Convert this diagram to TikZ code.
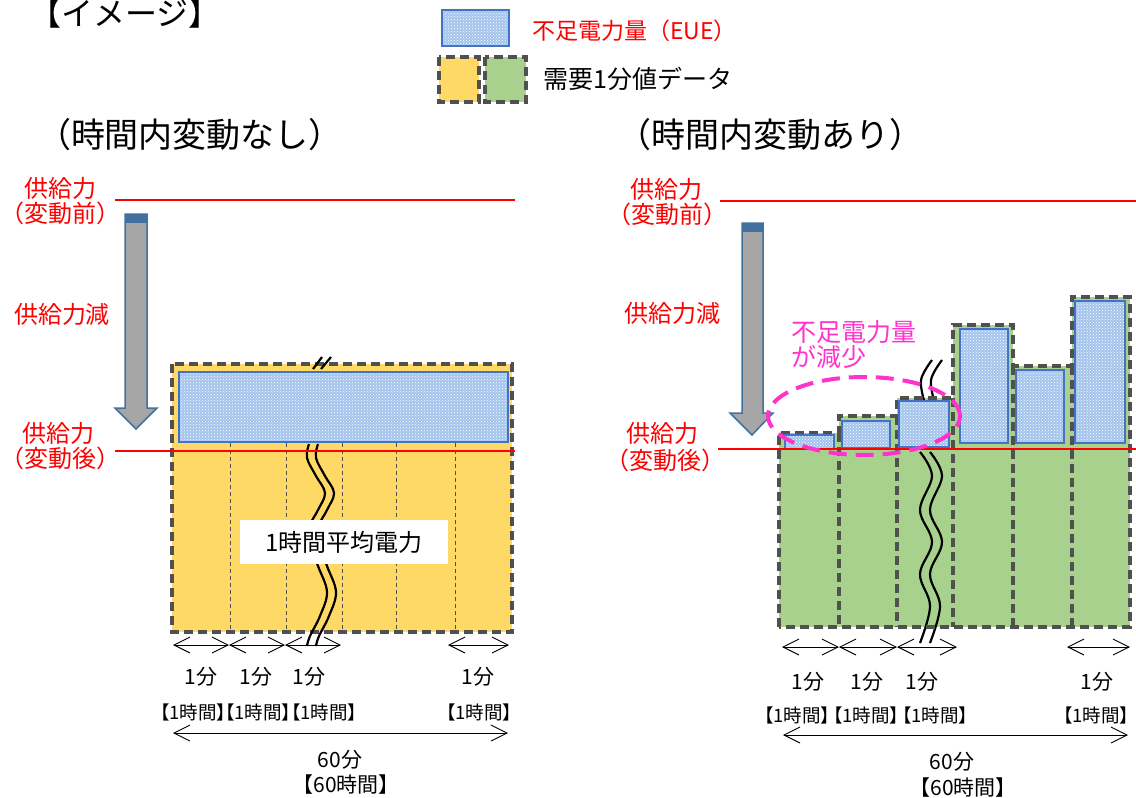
\documentclass[tikz,border=0pt]{standalone}
\usepackage{fontspec}
\setmainfont{Noto Sans CJK JP}
\newfontfamily\jpp[RawFeature=+palt]{Noto Sans CJK JP}
\usetikzlibrary{arrows.meta,patterns}
\definecolor{yel}{HTML}{FFD966}
\definecolor{grn}{HTML}{A9D18E}
\definecolor{dgray}{HTML}{505050}
\definecolor{bborder}{HTML}{4472C4}
\definecolor{bfill}{HTML}{A3C4EC}
\definecolor{bhatch}{HTML}{FFFFFF}
\definecolor{mag}{HTML}{FF33CC}
\definecolor{arrgray}{HTML}{A6A6A6}
\definecolor{arrblue}{HTML}{41719C}
\begin{document}
\begin{tikzpicture}[x=1pt,y=-1pt,
  redtxt/.style={text=red,font=\fontsize{24}{28}\selectfont,inner sep=0pt},
  blktxt/.style={text=black,font=\fontsize{21}{24}\selectfont,inner sep=0pt},
  grptxt/.style={text=black,font=\jpp\fontsize{18.5}{22}\selectfont,inner sep=0pt},
  dbox/.style={draw=dgray,line width=3.2pt,dash pattern=on 9pt off 5pt},
  dline/.style={draw=dgray,line width=1pt,dash pattern=on 4pt off 3pt},
  eue/.style={draw=bborder,line width=2.6pt,preaction={fill=bfill},pattern=crosshatch dots,pattern color=bhatch},
  supply/.style={draw=red,line width=2pt},
  bigarrow/.style={draw=arrblue,line width=1.5pt,fill=arrgray},
  dim/.style={{Straight Barb[length=16pt,width=16pt]}-{Straight Barb[length=16pt,width=16pt]},line width=0.9pt},
  wave/.style={draw=black,line width=2.2pt},
]
\useasboundingbox (0,0) rectangle (1136,798);

% ---------- title and legend ----------
\node[font=\fontsize{32}{36}\selectfont,inner sep=0pt] (title) at (125,13) {【イメージ】};
\path[eue] (442,10) rectangle (509,46);
\node[anchor=west,text=red,font=\fontsize{23}{26}\selectfont,inner sep=0pt] (legeuetxt) at (532,31) {不足電力量（EUE）};
\path[fill=yel,dbox] (439,57) rectangle (479,102);
\path[fill=grn,dbox] (485,57) rectangle (526,102);
\node[anchor=west,font=\fontsize{25}{28}\selectfont,inner sep=0pt] (legdem) at (543,79) {需要1分値データ};

\node[font=\fontsize{34}{38}\selectfont,inner sep=0pt] (tl) at (190,135) {（時間内変動なし）};
\node[font=\fontsize{34}{38}\selectfont,inner sep=0pt] (tr) at (770,135) {（時間内変動あり）};

% ---------- left panel ----------
\path[fill=yel] (172,364) rectangle (512,632);
\foreach \xx in {230,286,342,396,455} \draw[dline] (\xx,443) -- (\xx,632);
\path[dbox] (172,364) rectangle (512,632);
% squiggle (break mark)
\draw[wave] plot[smooth,tension=0.6] coordinates {(309,444) (307,458) (316,476) (325,493) (318,510) (310,526) (311,546) (318,566) (327,592) (320,616) (310,636) (307,646)};
\draw[wave] plot[smooth,tension=0.6] coordinates {(318,444) (316,458) (325,476) (334,493) (327,510) (319,526) (320,546) (327,566) (336,592) (329,616) (319,636) (316,646)};
\path[eue] (179,372) rectangle (508,442);
\draw[wave] (313,369) -- (322,357);
\draw[wave] (321,369) -- (331,357);
\node[fill=white,minimum width=208pt,minimum height=44pt,inner sep=0pt,font=\fontsize{24}{28}\selectfont] (avg) at (344,542) {1時間平均電力};

% supply lines left
\node[redtxt] (lpre1) at (60,188) {供給力};
\node[redtxt] (lpre2) at (61,213) {（変動前）};
\node[redtxt] (lred) at (62,314) {供給力減};
\node[redtxt] (lpost1) at (59,433) {供給力};
\node[redtxt] (lpost2) at (61,458) {（変動後）};
\coordinate (lpreA) at (115,200); \coordinate (lpreB) at (515,200);
\coordinate (lpostA) at (115,451); \coordinate (lpostB) at (515,451);
\draw[supply] (lpreA) -- (lpreB);
\draw[supply] (lpostA) -- (lpostB);
\path[bigarrow] (125,214) -- (147,214) -- (147,408) -- (157,408) -- (136,429) -- (115,408) -- (125,408) -- cycle;
\path[fill=arrblue] (125,214) rectangle (147,223);

% dimension arrows left
\coordinate (la0) at (173,645); \coordinate (la1) at (229,645);
\coordinate (la2) at (285,645); \coordinate (la3) at (341,645);
\coordinate (la4) at (448,645); \coordinate (la5) at (509,645);
\draw[dim] (la0) -- (la1);
\draw[dim] (la1) -- (la2);
\draw[dim] (la2) -- (la3);
\draw[dim] (la4) -- (la5);
\node[blktxt] (lm1) at (201,677) {1分};
\node[blktxt] (lm2) at (256,677) {1分};
\node[blktxt] (lm3) at (309,677) {1分};
\node[blktxt] (lm4) at (478,677) {1分};
\node[grptxt] (lh1) at (193,712) {【1時間】};
\node[grptxt] (lh2) at (258,712) {【1時間】};
\node[grptxt] (lh3) at (324,712) {【1時間】};
\node[grptxt] (lh4) at (479,712) {【1時間】};
\coordinate (lt0) at (173,733); \coordinate (lt1) at (508,733);
\draw[dim] (lt0) -- (lt1);
\node[blktxt] (l60a) at (340,760) {60分};
\node[blktxt] (l60b) at (346,785) {【60時間】};

% ---------- right panel ----------
\path[fill=grn] (779,433) rectangle (839,627);
\path[fill=grn] (839,416) rectangle (897,627);
\path[fill=grn] (897,398) rectangle (953,627);
\path[fill=grn] (953,325) rectangle (1013,627);
\path[fill=grn] (1013,366) rectangle (1072,627);
\path[fill=grn] (1072,297) rectangle (1130,627);
\draw[wave] plot[smooth,tension=0.6] coordinates {(932,360) (921,380) (925,404)};
\draw[wave] plot[smooth,tension=0.6] coordinates {(942,360) (931,380) (935,404)};
\draw[wave] plot[smooth,tension=0.6] coordinates {(920,452) (932,476) (920,510) (932,542) (920,574) (930,606) (920,643)};
\draw[wave] plot[smooth,tension=0.6] coordinates {(930,452) (942,476) (930,510) (942,542) (930,574) (940,606) (930,643)};
% outline of the stepped bars and dividers
\path[dbox] (779,627) -- (779,433) -- (839,433) -- (839,416) -- (897,416) -- (897,398) -- (953,398) -- (953,325) -- (1013,325) -- (1013,366) -- (1072,366) -- (1072,297) -- (1130,297) -- (1130,627) -- cycle;
\foreach \xx/\yy in {839/433,897/416,953/398,1013/366,1072/366} \path[dbox] (\xx,\yy) -- (\xx,627);
\path[eue] (785,435) rectangle (834,449);
\path[eue] (842,421) rectangle (890,448);
\path[eue] (899,401) rectangle (949,447);
\path[eue] (960,329) rectangle (1008,443);
\path[eue] (1016,370) rectangle (1064,443);
\path[eue] (1075,301) rectangle (1125,443);

\node[redtxt] (rpre1) at (666,189) {供給力};
\node[redtxt] (rpre2) at (667,214) {（変動前）};
\node[redtxt] (rred) at (672,313) {供給力減};
\node[redtxt] (rpost1) at (662,433) {供給力};
\node[redtxt] (rpost2) at (665,460) {（変動後）};
\coordinate (rpreA) at (720,201); \coordinate (rpreB) at (1136,201);
\coordinate (rpostA) at (718,449); \coordinate (rpostB) at (1136,449);
\draw[supply] (rpreA) -- (rpreB);
\draw[supply] (rpostA) -- (rpostB);
\path[bigarrow] (742,223) -- (763,223) -- (763,413) -- (773,413) -- (752,435) -- (730,413) -- (742,413) -- cycle;
\path[fill=arrblue] (742,223) rectangle (763,232);

\draw[draw=mag,line width=4pt,dash pattern=on 18pt off 9pt] (864,416) ellipse [x radius=96pt, y radius=39pt];
\node[anchor=west,text=mag,font=\fontsize{25}{28}\selectfont,inner sep=0pt] (less1) at (791,332) {不足電力量};
\node[anchor=west,text=mag,font=\fontsize{25}{28}\selectfont,inner sep=0pt] (less2) at (791,357) {が減少};

% dimension arrows right
\coordinate (ra0) at (782,647); \coordinate (ra1) at (839,647);
\coordinate (ra2) at (897,647); \coordinate (ra3) at (957,647);
\coordinate (ra4) at (1067,647); \coordinate (ra5) at (1130,647);
\draw[dim] (ra0) -- (ra1);
\draw[dim] (ra1) -- (ra2);
\draw[dim] (ra2) -- (ra3);
\draw[dim] (ra4) -- (ra5);
\node[blktxt] (rm1) at (808,682) {1分};
\node[blktxt] (rm2) at (867,682) {1分};
\node[blktxt] (rm3) at (922,682) {1分};
\node[blktxt] (rm4) at (1097,682) {1分};
\node[grptxt] (rh1) at (797,715) {【1時間】};
\node[grptxt] (rh2) at (866,715) {【1時間】};
\node[grptxt] (rh3) at (935,715) {【1時間】};
\node[grptxt] (rh4) at (1096,715) {【1時間】};
\coordinate (rt0) at (783,735); \coordinate (rt1) at (1128,735);
\draw[dim] (rt0) -- (rt1);
\node[blktxt] (r60a) at (952,762) {60分};
\node[blktxt] (r60b) at (963,788) {【60時間】};
\end{tikzpicture}
\end{document}
